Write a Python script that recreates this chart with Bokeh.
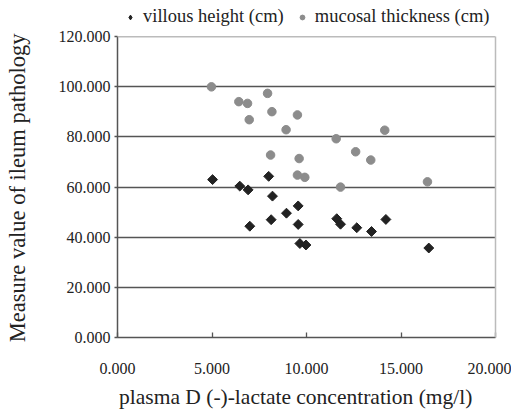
import numpy as np
from bokeh.plotting import figure
from bokeh.models import (Legend, LegendItem, NumeralTickFormatter, FixedTicker,
                          Range1d, Span, LinearAxis)
from bokeh.embed import file_html
from bokeh.resources import INLINE

# data
villous_x = [5.03, 6.47, 6.91, 8.0, 8.2, 7.0, 8.13, 8.94, 9.56, 9.56, 9.65, 9.97,
             11.6, 11.8, 12.66, 13.44, 14.2, 16.47]
villous_y = [63.0, 60.4, 58.9, 64.3, 56.4, 44.4, 47.0, 49.6, 52.5, 45.1, 37.5, 36.9,
             47.4, 45.2, 43.8, 42.3, 47.1, 35.7]
mucosal_x = [4.97, 6.42, 6.88, 6.97, 7.94, 8.17, 9.52, 8.92, 11.57, 14.14, 8.1, 9.61,
             12.6, 13.4, 9.52, 9.91, 11.8, 16.4]
mucosal_y = [100.0, 94.1, 93.4, 86.9, 97.4, 90.1, 88.8, 82.9, 79.3, 82.7, 72.8, 71.4,
             74.1, 70.8, 64.8, 63.9, 60.0, 62.1]
x_ticks = [0, 5, 10, 15, 20]
y_ticks = [0, 20, 40, 60, 80, 100, 120]
y_max = 120
x_title = "plasma D (-)-lactate concentration (mg/l)"
y_title = "Measure value of ileum pathology"

FONT = "Liberation Serif"
TXT = "#222222"
NB = "\u00a0"

W, H = 511, 411
TOP, BOTTOM, LEFT, RIGHT = 4, 66, 117, 16
frame_h = H - TOP - BOTTOM
# extend the range above 120 so the legend sits inside the frame
y_top = y_max * frame_h / 308.0

p = figure(width=W, height=H, output_backend="svg", toolbar_location=None,
           x_range=Range1d(0, 20), y_range=Range1d(0, y_top),
           min_border_left=LEFT, min_border_right=RIGHT, min_border_top=TOP,
           min_border_bottom=BOTTOM)
p.background_fill_color = "white"
p.border_fill_color = "white"
p.outline_line_color = None

p.xgrid.visible = False
p.ygrid.ticker = FixedTicker(ticks=y_ticks[1:-1])
p.ygrid.grid_line_color = "#555555"
p.ygrid.grid_line_width = 1.4

for ax in (p.xaxis[0], p.yaxis[0]):
    ax.formatter = NumeralTickFormatter(format="0.000")
    ax.axis_line_color = "#555555"
    ax.axis_line_width = 1.5
    ax.major_tick_line_color = "#555555"
    ax.major_tick_line_width = 1.3
    ax.minor_tick_line_color = None
    ax.major_label_text_font = FONT
    ax.major_label_text_color = TXT
    ax.major_label_text_font_size = "16px"
    ax.axis_label_text_font = FONT
    ax.axis_label_text_font_style = "normal"
    ax.axis_label_text_color = TXT

p.xaxis.ticker = FixedTicker(ticks=x_ticks)
p.xaxis.major_tick_in = 5
p.xaxis.major_tick_out = 0
p.xaxis.major_label_standoff = 25
p.xaxis.axis_label = x_title + NB * 4
p.xaxis.axis_label_text_font_size = "21.5px"
p.xaxis.axis_label_standoff = 8

p.yaxis.ticker = FixedTicker(ticks=y_ticks)
p.yaxis.bounds = (0, y_max)
p.yaxis.major_tick_in = 0
p.yaxis.major_tick_out = 3
p.yaxis.major_label_standoff = 4
p.yaxis.axis_label = y_title + NB * 6
p.yaxis.axis_label_text_font_size = "22.5px"
p.yaxis.axis_label_standoff = 26

# light frame lines on top and right of the plot area
right_axis = LinearAxis(bounds=(0, y_max), ticker=FixedTicker(ticks=[]),
                        major_tick_line_color=None, minor_tick_line_color=None,
                        axis_line_color="#bbbbbb", axis_line_width=1.5)
p.add_layout(right_axis, "right")
p.add_layout(Span(location=y_max, dimension="width", line_color="#bbbbbb",
                  line_width=1.5))

rm = p.scatter(mucosal_x, mucosal_y, marker="circle", size=8.5,
               fill_color="#8c8c8c", line_color="#8c8c8c")
rv = p.scatter(villous_x, villous_y, marker="square", size=7, angle=np.pi / 4,
               fill_color="#222222", line_color="#222222")
# hidden legend-only twin so the legend key shows a diamond
rv_key = p.scatter(villous_x, villous_y, marker="diamond", size=13,
                   fill_color="#222222", line_color="#222222", visible=False)

legend = Legend(items=[LegendItem(label="villous height (cm)", renderers=[rv_key]),
                       LegendItem(label="mucosal thickness (cm)", renderers=[rm])],
                orientation="horizontal", location=(7, frame_h - 31))
legend.label_text_font = FONT
legend.label_text_font_size = "18.5px"
legend.label_text_color = TXT
legend.border_line_color = None
legend.background_fill_alpha = 0
legend.inactive_fill_alpha = 0
legend.padding = 0
legend.margin = 0
legend.spacing = 12
legend.glyph_width = 12
legend.label_standoff = 7
legend.click_policy = "none"
p.add_layout(legend, "center")

open("out.html", "w").write(file_html(p, INLINE))
